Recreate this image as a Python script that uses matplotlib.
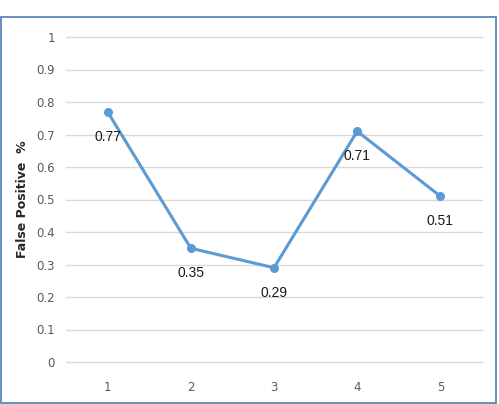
import matplotlib
matplotlib.use('Agg')
import matplotlib.pyplot as plt
from matplotlib.patches import Rectangle

categories = ['1', '2', '3', '4', '5']
false_positive = [0.77, 0.35, 0.29, 0.71, 0.51]
y_ticks = [0, 0.1, 0.2, 0.3, 0.4, 0.5, 0.6, 0.7, 0.8, 0.9, 1]
y_tick_labels = ['0', '0.1', '0.2', '0.3', '0.4', '0.5', '0.6', '0.7', '0.8', '0.9', '1']

W, H = 499, 404
fig = plt.figure(figsize=(W / 100, H / 100), dpi=100)

# рамка вокруг диаграммы
fig.patches.append(Rectangle((1 / W, 1 / H), 495 / W, 386 / H,
                             transform=fig.transFigure, fill=False,
                             edgecolor='#5b87b8', linewidth=1.3))

ax = fig.add_axes([66 / W, 1 - 362 / H, 416 / W, 325 / H])
x = list(range(1, len(categories) + 1))
ax.plot(x, false_positive, color='#5b9bd5', linewidth=2.2,
        marker='o', markersize=5.5, zorder=3)

for xi, v in zip(x, false_positive):
    ax.annotate(f'{v:.2f}', (xi, v), xytext=(0, -18), textcoords='offset points',
                ha='center', va='center', fontsize=10,
                family='Liberation Sans', color='#1a1a1a')

ax.set_xlim(0.5, len(categories) + 0.5)
ax.set_ylim(0, 1)
ax.set_xticks(x)
ax.set_xticklabels(categories)
ax.set_yticks(y_ticks)
ax.set_yticklabels(y_tick_labels)
ax.tick_params(length=0, labelsize=8.5, colors='#595959', pad=8)
ax.tick_params(axis='x', pad=14)
ax.grid(axis='y', color='#d9d9d9', linewidth=1)
for gl in ax.get_ygridlines():
    gl.set_clip_on(False)
ax.set_axisbelow(True)
for s in ax.spines.values():
    s.set_visible(False)

ax.set_ylabel('False Positive  %', fontsize=9, fontweight='bold', color='#262626')
ax.yaxis.set_label_coords(-0.088, 0.5)

fig.savefig('out.png', dpi=100)
